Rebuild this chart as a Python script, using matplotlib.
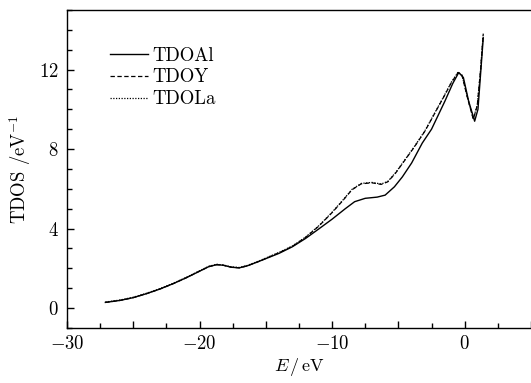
import numpy as np
import matplotlib
matplotlib.use("Agg")
import matplotlib.pyplot as plt
from matplotlib.ticker import MultipleLocator, FuncFormatter

plt.rcParams['font.family'] = ['cmr10', 'DejaVu Serif']
plt.rcParams['mathtext.fontset'] = 'cm'
plt.rcParams['axes.unicode_minus'] = False

# TDOAl (solid)
E_al = [-27.1, -26, -25, -24, -23, -22, -21, -20, -19.3, -18.7, -18.2, -17.6,
        -17.0, -16.4, -15.5, -14, -13, -12, -11, -10, -9, -8.3, -7.5, -6.6,
        -6.0, -5.3, -4.7, -4.0, -3.2, -2.5, -1.5, -0.9, -0.45, -0.1, 0.3,
        0.75, 1.0, 1.2, 1.4]
tdos_al = [0.28, 0.38, 0.52, 0.72, 0.95, 1.22, 1.52, 1.85, 2.08, 2.18, 2.15, 2.05,
           2.02, 2.12, 2.35, 2.75, 3.08, 3.5, 3.98, 4.47, 5.0, 5.35, 5.52, 5.58,
           5.68, 6.1, 6.6, 7.3, 8.3, 9.0, 10.4, 11.3, 11.85, 11.6, 10.4,
           9.4, 10.0, 11.8, 13.6]

# TDOY (dashed)
E_y = [-27.1, -26, -25, -24, -23, -22, -21, -20, -19.3, -18.7, -18.2, -17.6,
       -17.0, -16.4, -15.5, -14, -13, -12, -11, -10, -9.2, -8.5, -7.8, -7.0,
       -6.3, -5.8, -5.2, -4.5, -3.8, -3.0, -2.3, -1.6, -1.0, -0.5, -0.2,
       0.2, 0.65, 0.95, 1.2, 1.4]
tdos_y = [0.28, 0.38, 0.52, 0.72, 0.95, 1.22, 1.52, 1.85, 2.08, 2.18, 2.15, 2.05,
          2.02, 2.12, 2.35, 2.78, 3.1, 3.55, 4.12, 4.8, 5.4, 5.95, 6.25, 6.3,
          6.22, 6.35, 6.8, 7.45, 8.1, 8.9, 9.75, 10.6, 11.35, 11.85, 11.7,
          10.6, 9.5, 10.2, 12.0, 13.8]

# TDOLa (dotted), lies nearly on TDOY
E_la = [-27.1, -26, -25, -24, -23, -22, -21, -20, -19.3, -18.7, -18.2, -17.6,
        -17.0, -16.4, -15.5, -14, -13, -12, -11, -10, -9.2, -8.5, -7.8, -7.0,
        -6.3, -5.8, -5.2, -4.5, -3.8, -3.0, -2.3, -1.6, -1.0, -0.5, -0.2,
        0.2, 0.65, 0.95, 1.2, 1.4]
tdos_la = [0.3, 0.4, 0.54, 0.74, 0.97, 1.24, 1.54, 1.87, 2.1, 2.2, 2.16, 2.07,
           2.04, 2.14, 2.37, 2.8, 3.12, 3.57, 4.14, 4.82, 5.42, 5.97, 6.27, 6.32,
           6.24, 6.37, 6.82, 7.47, 8.12, 8.92, 9.77, 10.62, 11.37, 11.87, 11.72,
           10.62, 9.52, 10.22, 12.02, 13.82]

fig = plt.figure(figsize=(5.31, 3.83), dpi=100)
ax = fig.add_axes([0.126, 0.144, 0.874, 0.830])

ax.plot(E_al, tdos_al, color='k', lw=1.0, ls='-', label='TDOAl')
ax.plot(E_y, tdos_y, color='k', lw=0.9, ls=(0, (3.5, 2)), label='TDOY')
ax.plot(E_la, tdos_la, color='k', lw=0.9, ls=(0, (1, 1.2)), label='TDOLa')

ax.set_xlim(-30, 5)
ax.set_ylim(-1, 15)
ax.spines['right'].set_visible(False)
for s in ['left', 'bottom', 'top']:
    ax.spines[s].set_linewidth(1.0)

ax.xaxis.set_major_locator(MultipleLocator(5))
ax.xaxis.set_minor_locator(MultipleLocator(2.5))
ax.xaxis.set_major_formatter(FuncFormatter(
    lambda v, p: '$%d$' % v if abs(v) % 10 == 0 else ''))
ax.yaxis.set_major_locator(MultipleLocator(4))
ax.yaxis.set_minor_locator(MultipleLocator(1))
ax.yaxis.set_major_formatter(FuncFormatter(lambda v, p: '$%d$' % v))
ax.tick_params(which='both', direction='in', labelsize=13.5, top=False, right=False)
ax.tick_params(which='major', length=5, width=1.0)
ax.tick_params(which='minor', length=3.5, width=1.0)
ax.tick_params(axis='x', pad=5)
ax.tick_params(axis='y', pad=6)

ax.set_xlabel('$E\\,/\\,$eV', fontsize=13, labelpad=2)
ax.set_ylabel('TDOS /eV$^{-1}$', fontsize=13.5)
ax.yaxis.set_label_coords(-0.072, 0.5)

ax.legend(loc='upper left', bbox_to_anchor=(0.093, 0.884), frameon=False,
          fontsize=13.5, handlelength=2.0, handletextpad=0.25, labelspacing=0.2,
          borderpad=0, borderaxespad=0)

fig.savefig('out.png', dpi=100)
